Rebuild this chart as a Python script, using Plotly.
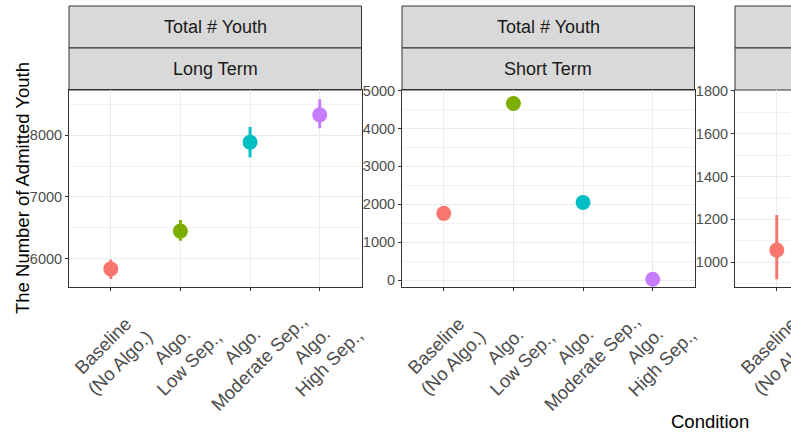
import plotly.graph_objects as go

W, H = 791, 434
OFF = 0  # body margin removed by post_script below

# ---------------- data ----------------
categories = [1, 2, 3, 4]
category_labels = ["Baseline<br>(No Algo.)", "Algo.<br>Low Sep.,",
                   "Algo.<br>Moderate Sep.,", "Algo.<br>High Sep.,"]
colors = ["#F8766D", "#7CAE00", "#00BFC4", "#C77CFF"]

strip_top = ["Total # Youth", "Total # Youth"]
strip_bottom = ["Long Term", "Short Term"]

long_mean = [5840, 6450, 7885, 8325]
long_low = [5680, 6295, 7640, 8108]
long_high = [5990, 6630, 8130, 8575]

short_mean = [1760, 4660, 2050, 20]

third_categories = [1]
third_mean = [1057]
third_low = [921]
third_high = [1220]

y_title = "The Number of Admitted Youth"
x_title = "Condition"

# ---------------- geometry helpers (page pixels -> paper) ----------------
def px(x):
    return (x - OFF) / W

def py(y):
    return (H - (y - OFF)) / H

panel_top, panel_bot = 90, 287
panels_x = [(69, 361.5), (402, 694.5), (735, 800)]
cat_px = (361.5 - 69) / 4.2

fig = go.Figure()

FAMILY = "Liberation Sans, Arial, sans-serif"
BORDER = "#333333"
GRID = "#EBEBEB"
TICKFONT = dict(family=FAMILY, size=14.5, color="#4D4D4D")

# panel 1
for i in range(4):
    fig.add_trace(go.Scatter(
        x=[categories[i]], y=[long_mean[i]], mode="markers",
        marker=dict(color=colors[i], size=15, line=dict(width=0)),
        error_y=dict(type="data", symmetric=False,
                     array=[long_high[i] - long_mean[i]],
                     arrayminus=[long_mean[i] - long_low[i]],
                     color=colors[i], thickness=3, width=0),
        xaxis="x", yaxis="y", showlegend=False))

# panel 2
for i in range(4):
    fig.add_trace(go.Scatter(
        x=[categories[i]], y=[short_mean[i]], mode="markers",
        marker=dict(color=colors[i], size=15, line=dict(width=0)),
        xaxis="x2", yaxis="y2", showlegend=False))

# panel 3 (only the visible part)
for i in range(len(third_categories)):
    fig.add_trace(go.Scatter(
        x=[third_categories[i]], y=[third_mean[i]], mode="markers",
        marker=dict(color=colors[i], size=15, line=dict(width=0)),
        error_y=dict(type="data", symmetric=False,
                     array=[third_high[i] - third_mean[i]],
                     arrayminus=[third_mean[i] - third_low[i]],
                     color=colors[i], thickness=3, width=0),
        xaxis="x3", yaxis="y3", showlegend=False))

ydom = [py(panel_bot), py(panel_top)]

def xaxis(idx, mirror=True):
    x0, x1 = panels_x[idx]
    x1c = min(px(x1), 1.0)
    if idx < 2:
        rng = [0.4, 4.6]
    else:
        rng = [0.4, 0.4 + (x1c * W + OFF - x0) / cat_px]
    d = dict(domain=[px(x0), x1c], range=rng, tickvals=categories,
             showticklabels=False, ticks="outside", ticklen=3, tickcolor=BORDER,
             tickwidth=1, showgrid=True, gridcolor=GRID, gridwidth=1,
             zeroline=False, showline=True, linecolor=BORDER, linewidth=1,
             mirror=mirror, fixedrange=True, showspikes=False)
    d["anchor"] = "y" if idx == 0 else "y%d" % (idx + 1)
    return d

def yaxis(idx, rng, dtick, minor_dtick, mirror=True):
    d = dict(domain=ydom, range=rng, dtick=dtick, tick0=0,
             ticks="outside", ticklen=3, tickcolor=BORDER, tickwidth=1,
             tickfont=TICKFONT, showgrid=True, gridcolor=GRID, gridwidth=1,
             minor=dict(dtick=minor_dtick, tick0=0, showgrid=True,
                        gridcolor="#F2F2F2", gridwidth=1, ticks=""),
             zeroline=False, showline=True, linecolor=BORDER, linewidth=1,
             mirror=mirror, automargin=False, fixedrange=True, showspikes=False)
    d["anchor"] = "x" if idx == 0 else "x%d" % (idx + 1)
    return d

fig.update_layout(
    width=W, height=H,
    margin=dict(l=0, r=0, t=0, b=0, pad=0),
    paper_bgcolor="white", plot_bgcolor="white",
    hovermode=False,
    xaxis=xaxis(0), xaxis2=xaxis(1), xaxis3=xaxis(2, mirror=False),
    yaxis=yaxis(0, [5548, 8726], 1000, 500),
    yaxis2=yaxis(1, [-185, 5018], 1000, 500),
    yaxis3=yaxis(2, [885, 1803], 200, 100, mirror=False),
)

shapes = []
annotations = []
STRIPFONT = dict(family=FAMILY, size=18, color="#1A1A1A")
for idx, (x0, x1) in enumerate(panels_x):
    xr = px(x1) if idx < 2 else 1.05
    for (ya, yb) in [(6, 48), (48, 90)]:
        shapes.append(dict(type="rect", xref="paper", yref="paper",
                           x0=px(x0), x1=xr, y0=py(yb), y1=py(ya),
                           fillcolor="#D9D9D9", line=dict(color=BORDER, width=1),
                           layer="below"))
    if idx < 2:
        cx = px((x0 + x1) / 2)
        annotations.append(dict(text=strip_top[idx], x=cx, y=py(27), xref="paper",
                                yref="paper", showarrow=False, font=STRIPFONT,
                                xanchor="center", yanchor="middle"))
        annotations.append(dict(text=strip_bottom[idx], x=cx, y=py(69), xref="paper",
                                yref="paper", showarrow=False, font=STRIPFONT,
                                xanchor="center", yanchor="middle"))

# rotated category labels
LABELFONT = dict(family=FAMILY, size=18.5, color="#4D4D4D")
for xr, cats in [("x", categories), ("x2", categories), ("x3", third_categories)]:
    for c in cats:
        annotations.append(dict(text=category_labels[c - 1], x=c, y=py(354),
                                xref=xr, yref="paper", showarrow=False,
                                textangle=-45, align="center", font=LABELFONT,
                                xanchor="center", yanchor="middle"))

TITLEFONT = dict(family=FAMILY, size=18.5, color="#000000")
annotations.append(dict(text=y_title, x=px(22.5), y=py((panel_top + panel_bot) / 2),
                        xref="paper", yref="paper", showarrow=False, textangle=-90,
                        font=TITLEFONT, xanchor="center", yanchor="middle"))
annotations.append(dict(text=x_title, x=px(710), y=py(421), xref="paper", yref="paper",
                        showarrow=False, font=TITLEFONT, xanchor="center",
                        yanchor="middle"))

fig.update_layout(shapes=shapes, annotations=annotations)
fig.write_html(
    "out.html",
    config={"displayModeBar": False},
    post_script="document.body.style.margin='0';"
                "document.documentElement.style.overflow='hidden';"
                "document.body.style.overflow='hidden';",
)
